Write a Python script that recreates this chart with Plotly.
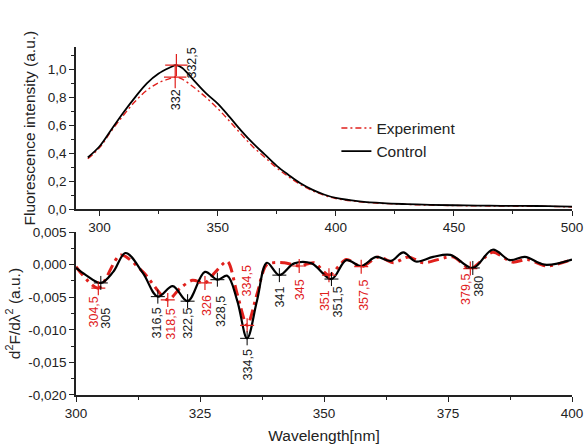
import plotly.graph_objects as go

# ---------------- data ----------------
# Top panel: fluorescence spectra
wl_top = [295, 300, 305, 310, 315, 320, 325, 330, 332, 332.5, 335, 340, 345, 350, 355, 360, 365, 370,
          375, 380, 385, 390, 395, 400, 410, 420, 430, 440, 450, 460, 470, 480, 490, 500]
control_f = [0.37, 0.45, 0.57, 0.69, 0.80, 0.90, 0.97, 1.015, 1.03, 1.03, 1.01, 0.92, 0.83, 0.755, 0.66, 0.56,
             0.47, 0.39, 0.31, 0.245, 0.185, 0.14, 0.105, 0.08, 0.056, 0.043, 0.036, 0.031, 0.028, 0.026,
             0.024, 0.023, 0.022, 0.018]
experiment_f = [0.36, 0.44, 0.56, 0.67, 0.77, 0.85, 0.905, 0.935, 0.945, 0.945, 0.93, 0.87, 0.80, 0.72, 0.63,
                0.535, 0.445, 0.37, 0.295, 0.232, 0.176, 0.133, 0.1, 0.076, 0.053, 0.041, 0.034, 0.029,
                0.026, 0.024, 0.022, 0.021, 0.02, 0.016]
top_peak_x_exp = [332]
top_peak_y_exp = [0.945]
top_peak_x_ctrl = [332.5]
top_peak_y_ctrl = [1.03]
top_label_exp = ["332"]
top_label_ctrl = ["332,5"]

# Bottom panel: second derivative
wl_ctrl_d2 = [300, 302, 305, 307.5, 310, 313.5, 316.5, 319.5, 322.5, 326, 328.5, 330.5, 332.5, 334.5,
              336.5, 338.5, 341, 344, 347.5, 351.5, 354.5, 357.5, 360.5, 363.5, 366, 368.5, 372, 375.5,
              380, 384, 387.5, 390.5, 394.5, 400]
ctrl_d2 = [-0.0005, -0.0016, -0.0028, -0.0011, 0.0018, -0.0013, -0.0049, -0.0033, -0.0056, -0.0011,
           -0.0023, -0.0017, -0.0055, -0.0113, -0.0055, 0.0003, -0.0016, 0.0002, 0.0002, -0.0022, 0.0007,
           -0.0002, 0.0012, 0.0006, 0.0019, 0.0005, 0.0012, 0.0015, -0.0005, 0.0023, 0.0007, 0.0012,
           0.0, 0.0008]
wl_exp_d2 = [300, 304.5, 309, 313.5, 318.5, 321, 323.5, 326, 328, 330.5, 332.5, 334.5, 336.5, 338.5,
             342, 345, 348, 351, 354.5, 357.5, 361, 364, 367, 370, 376, 379.5, 384, 388, 391, 395, 400]
exp_d2 = [-0.0003, -0.0036, 0.0015, -0.0011, -0.0054, -0.0036, -0.0024, -0.0028, -0.0012, 0.0005,
          -0.0045, -0.0093, -0.0045, 0.0000, 0.0003, -0.0002, 0.0003, -0.0016, 0.0008, -0.0003, 0.0012,
          0.0003, 0.0012, 0.0003, 0.0012, -0.0006, 0.0019, 0.0004, 0.0008, -0.0002, 0.0008]

exp_peaks_x = [304.5, 318.5, 326, 334.5, 345, 351, 357.5, 379.5]
exp_peaks_y = [-0.0036, -0.0054, -0.0028, -0.0093, -0.0002, -0.0016, -0.0003, -0.0006]
exp_peak_labels = ["304,5", "318,5", "326", "334,5", "345", "351", "357,5", "379,5"]
ctrl_peaks_x = [305, 316.5, 322.5, 328.5, 334.5, 341, 351.5, 380]
ctrl_peaks_y = [-0.0028, -0.0049, -0.0056, -0.0023, -0.0113, -0.0016, -0.0022, -0.0005]
ctrl_peak_labels = ["305", "316,5", "322,5", "328,5", "334,5", "341", "351,5", "380"]

top_x_ticks = [300, 350, 400, 450, 500]
top_y_ticks = [0.0, 0.2, 0.4, 0.6, 0.8, 1.0]
top_y_ticktext = ["0,0", "0,2", "0,4", "0,6", "0,8", "1,0"]
bot_x_ticks = [300, 325, 350, 375, 400]
bot_y_ticks = [0.005, 0.0, -0.005, -0.010, -0.015, -0.020]
bot_y_ticktext = ["0,005", "0,000", "-0,005", "-0,010", "-0,015", "-0,020"]

# label pixel offsets (xshift, yshift)
exp_label_shift = [(-4, -24), (3, -24), (2, -22), (0, 44), (1, -24), (-4, -25), (2, -29), (-5, -21)]
ctrl_label_shift = [(5, -35), (-1, -26), (1, -22), (3, -32), (1, -27), (1, -22), (7, -23), (6, -18)]
top_exp_shift = [(1, -23)]
top_ctrl_shift = [(16, 2)]

RED = "#e0201c"
BLACK = "#000000"
FONT = "Liberation Sans, Arial, sans-serif"

fig = go.Figure()

# top panel
fig.add_trace(go.Scatter(x=wl_top, y=experiment_f, name="Experiment", mode="lines",
                         line=dict(color=RED, width=1.4, dash="6px,3px,2px,3px", shape="spline"),
                         xaxis="x", yaxis="y"))
fig.add_trace(go.Scatter(x=wl_top, y=control_f, name="Control", mode="lines",
                         line=dict(color=BLACK, width=1.8, shape="spline"),
                         xaxis="x", yaxis="y"))
fig.add_trace(go.Scatter(x=top_peak_x_exp + top_peak_x_ctrl, y=top_peak_y_exp + top_peak_y_ctrl,
                         mode="markers", showlegend=False, hoverinfo="skip",
                         marker=dict(symbol="cross-thin", size=16, line=dict(color=RED, width=1.2)),
                         xaxis="x", yaxis="y"))

# bottom panel
fig.add_trace(go.Scatter(x=wl_exp_d2, y=exp_d2, mode="lines", showlegend=False,
                         line=dict(color=RED, width=3, dash="11px,5px,3px,5px", shape="spline", smoothing=0.8),
                         xaxis="x2", yaxis="y2"))
fig.add_trace(go.Scatter(x=wl_ctrl_d2, y=ctrl_d2, mode="lines", showlegend=False,
                         line=dict(color=BLACK, width=2.2, shape="spline", smoothing=1.0),
                         xaxis="x2", yaxis="y2"))
fig.add_trace(go.Scatter(x=exp_peaks_x, y=exp_peaks_y, mode="markers", showlegend=False, hoverinfo="skip",
                         marker=dict(symbol="cross-thin", size=10, line=dict(color=RED, width=1.2)),
                         xaxis="x2", yaxis="y2"))
fig.add_trace(go.Scatter(x=ctrl_peaks_x, y=ctrl_peaks_y, mode="markers", showlegend=False, hoverinfo="skip",
                         marker=dict(symbol="cross-thin", size=10, line=dict(color=BLACK, width=1)),
                         xaxis="x2", yaxis="y2"))

annotations = []
def add_labels(xs, ys, labels, shifts, color, xref, yref):
    for x, y, t, (dx, dy) in zip(xs, ys, labels, shifts):
        annotations.append(dict(x=x, y=y, xref=xref, yref=yref, text=t, showarrow=False,
                                textangle=-90, xanchor="center", yanchor="middle",
                                xshift=dx, yshift=dy, font=dict(size=12.5, color=color, family=FONT)))

add_labels(exp_peaks_x, exp_peaks_y, exp_peak_labels, exp_label_shift, RED, "x2", "y2")
add_labels(ctrl_peaks_x, ctrl_peaks_y, ctrl_peak_labels, ctrl_label_shift, "#222222", "x2", "y2")
add_labels(top_peak_x_exp, top_peak_y_exp, top_label_exp, top_exp_shift, "#111111", "x", "y")
add_labels(top_peak_x_ctrl, top_peak_y_ctrl, top_label_ctrl, top_ctrl_shift, "#111111", "x", "y")

axis_common = dict(showline=True, linecolor="#222222", linewidth=1.5, ticks="outside", ticklen=5,
                   tickwidth=1.3, tickcolor="#222222", showgrid=False, zeroline=False,
                   tickfont=dict(size=13.5, color="#222222", family=FONT), automargin=False)

fig.update_layout(
    width=586, height=446,
    margin=dict(l=76, r=14, t=47, b=51),
    paper_bgcolor="white", plot_bgcolor="white",
    font=dict(family=FONT, color="#222222"),
    showlegend=True,
    legend=dict(x=0.525, y=0.815, xanchor="left", yanchor="top", bgcolor="rgba(0,0,0,0)",
                font=dict(size=15.5, family=FONT, color="#222222"), tracegroupgap=0,
                itemwidth=30),
    xaxis=dict(domain=[0, 1], range=[290, 500], anchor="y", tickvals=top_x_ticks,
               ticktext=[str(v) for v in top_x_ticks],
               minor=dict(dtick=25, tick0=300, ticks="outside", ticklen=3, tickcolor="#222222"),
               **axis_common),
    yaxis=dict(domain=[0.534, 1], range=[0, 1.16], anchor="x", tickvals=top_y_ticks,
               ticktext=top_y_ticktext,
               minor=dict(dtick=0.1, tick0=0, ticks="outside", ticklen=3, tickcolor="#222222"),
               title=dict(text="Fluorescence intensity (a.u.)", font=dict(size=15.5, family=FONT), standoff=8),
               **axis_common),
    xaxis2=dict(domain=[0, 1], range=[300, 400], anchor="y2", tickvals=bot_x_ticks,
                ticktext=[str(v) for v in bot_x_ticks],
                minor=dict(dtick=12.5, tick0=300, ticks="outside", ticklen=3, tickcolor="#222222"),
                title=dict(text="Wavelength[nm]", font=dict(size=15.5, family=FONT), standoff=10),
                **axis_common),
    yaxis2=dict(domain=[0, 0.468], range=[-0.020, 0.005], anchor="x2", tickvals=bot_y_ticks,
                ticktext=bot_y_ticktext,
                minor=dict(dtick=0.0025, tick0=0, ticks="outside", ticklen=3, tickcolor="#222222"),
                title=dict(text="d<sup>2</sup>F/dλ<sup>2</sup> (a.u.)", font=dict(size=15.5, family=FONT),
                           standoff=4),
                **axis_common),
    annotations=annotations,
)

fig.write_html("out.html", config={"displayModeBar": False},
               post_script="document.body.style.margin='0';document.body.style.overflow='hidden';")
